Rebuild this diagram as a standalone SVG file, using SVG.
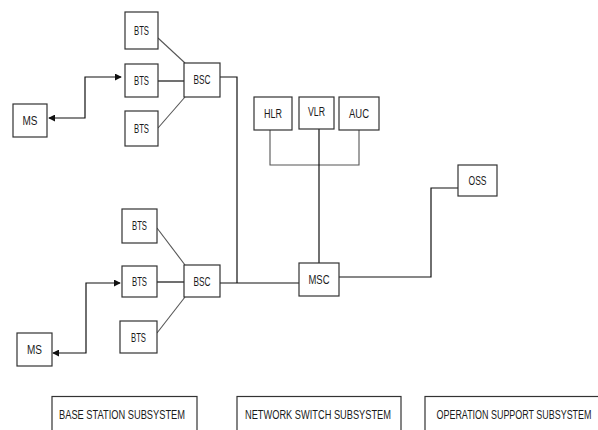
<svg xmlns="http://www.w3.org/2000/svg" width="598" height="430" viewBox="0 0 598 430">
<defs>
<style>
.box{fill:#fff;stroke:#333;stroke-width:1.2}
.t{font-family:"Liberation Sans",Arial,sans-serif;font-size:12.5px;fill:#1a1a1a;text-anchor:middle}
.c{fill:none;stroke:#111;stroke-width:1.2}
.g{fill:none;stroke:#555;stroke-width:1.1}
</style>
<marker id="ah" viewBox="0 0 8 8" refX="7" refY="4" markerWidth="7" markerHeight="7" markerUnits="userSpaceOnUse" orient="auto-start-reverse">
<path d="M0,0 L8,4 L0,8 Z" fill="#111"/>
</marker>
</defs>
<rect width="598" height="430" fill="#fff"/>
<g id="connectors">
<line class="g" x1="158" y1="38" x2="185" y2="63"/>
<line class="c" x1="158" y1="81" x2="184" y2="81"/>
<line class="g" x1="158" y1="128" x2="185" y2="97"/>
<line class="g" x1="157" y1="228" x2="185" y2="265"/>
<line class="c" x1="157" y1="282" x2="184" y2="282"/>
<line class="g" x1="157" y1="333" x2="185" y2="297"/>
<polyline class="c" points="220,77 237,77 237,283"/>
<line class="c" x1="220" y1="283" x2="299" y2="283"/>
<polyline class="g" points="270,130 270,165 359,165 359,130"/>
<line class="c" x1="319" y1="129" x2="319" y2="263"/>
<polyline class="c" points="339,277 431,277 431,188 458,188"/>
<polyline class="c" points="49,118 85,118 85,77 121,77" marker-start="url(#ah)" marker-end="url(#ah)"/>
<polyline class="c" points="53,353 86,353 86,283 120,283" marker-start="url(#ah)" marker-end="url(#ah)"/>
</g>
<g id="bts1"><rect class="box" x="125" y="12" width="33" height="37"/><text class="t" x="141.5" y="34.5" textLength="15" lengthAdjust="spacingAndGlyphs">BTS</text></g>
<g id="bts2"><rect class="box" x="125" y="64" width="33" height="33"/><text class="t" x="141.5" y="85" textLength="15" lengthAdjust="spacingAndGlyphs">BTS</text></g>
<g id="bts3"><rect class="box" x="125" y="111" width="33" height="35"/><text class="t" x="141.5" y="132.5" textLength="15" lengthAdjust="spacingAndGlyphs">BTS</text></g>
<g id="bsc1"><rect class="box" x="184" y="63" width="36" height="34"/><text class="t" x="202" y="84" textLength="17" lengthAdjust="spacingAndGlyphs">BSC</text></g>
<g id="ms1"><rect class="box" x="13" y="104" width="34" height="33"/><text class="t" x="30" y="125" textLength="15" lengthAdjust="spacingAndGlyphs">MS</text></g>
<g id="bts4"><rect class="box" x="122" y="209" width="35" height="34"/><text class="t" x="139.5" y="230" textLength="15" lengthAdjust="spacingAndGlyphs">BTS</text></g>
<g id="bts5"><rect class="box" x="122" y="266" width="35" height="31"/><text class="t" x="139.5" y="286" textLength="15" lengthAdjust="spacingAndGlyphs">BTS</text></g>
<g id="bts6"><rect class="box" x="120" y="321" width="37" height="32"/><text class="t" x="138.5" y="341.5" textLength="15" lengthAdjust="spacingAndGlyphs">BTS</text></g>
<g id="bsc2"><rect class="box" x="184" y="265" width="36" height="32"/><text class="t" x="202" y="285.5" textLength="17" lengthAdjust="spacingAndGlyphs">BSC</text></g>
<g id="ms2"><rect class="box" x="17" y="333" width="35" height="33"/><text class="t" x="34.5" y="354" textLength="15" lengthAdjust="spacingAndGlyphs">MS</text></g>
<g id="hlr"><rect class="box" x="254" y="97" width="38" height="33"/><text class="t" x="273" y="118" textLength="18" lengthAdjust="spacingAndGlyphs">HLR</text></g>
<g id="vlr"><rect class="box" x="299" y="97" width="35" height="32"/><text class="t" x="316.5" y="116" textLength="17" lengthAdjust="spacingAndGlyphs">VLR</text></g>
<g id="auc"><rect class="box" x="339" y="97" width="40" height="33"/><text class="t" x="359" y="118" textLength="20" lengthAdjust="spacingAndGlyphs">AUC</text></g>
<g id="msc"><rect class="box" x="299" y="263" width="40" height="33"/><text class="t" x="319" y="284" textLength="21" lengthAdjust="spacingAndGlyphs">MSC</text></g>
<g id="oss"><rect class="box" x="458" y="165" width="39" height="31"/><text class="t" x="477.5" y="185" textLength="18" lengthAdjust="spacingAndGlyphs">OSS</text></g>
<g id="legend-bss"><rect class="box" x="52" y="396.5" width="145" height="40"/><text class="t" x="122" y="419" textLength="126" lengthAdjust="spacingAndGlyphs">BASE STATION SUBSYSTEM</text></g>
<g id="legend-nss"><rect class="box" x="237" y="396.5" width="164" height="40"/><text class="t" x="318" y="419" textLength="146" lengthAdjust="spacingAndGlyphs">NETWORK SWITCH SUBSYSTEM</text></g>
<g id="legend-oss"><rect class="box" x="425" y="396.5" width="180" height="40"/><text class="t" x="514" y="419" textLength="155" lengthAdjust="spacingAndGlyphs">OPERATION SUPPORT SUBSYSTEM</text></g>
</svg>
